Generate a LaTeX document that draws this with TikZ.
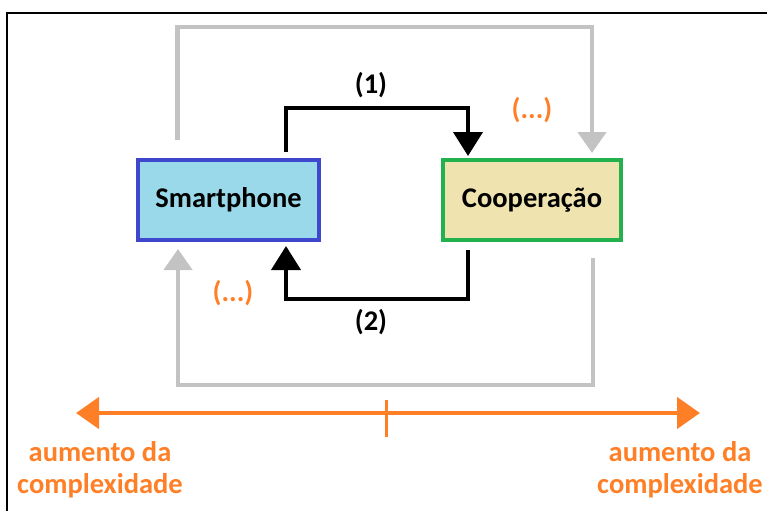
\documentclass[tikz,border=0pt]{standalone}
\usepackage{fontspec}
\setmainfont{Carlito}
\usetikzlibrary{arrows.meta}

\definecolor{paintblue}{HTML}{99D9EA}
\definecolor{paintindigo}{HTML}{3F48CC}
\definecolor{paintyellow}{HTML}{EFE4B0}
\definecolor{paintgreen}{HTML}{22B14C}
\definecolor{paintorange}{HTML}{FF7F27}
\definecolor{paintgrey}{HTML}{C3C3C3}

\begin{document}
\begin{tikzpicture}[x=1pt, y=-1pt,
  every node/.style={font=\fontsize{28.5}{32}\selectfont\bfseries},
  box/.style={draw, line width=4pt, minimum width=181pt, minimum height=80pt},
  flow/.style={line width=4pt, black, -{Triangle[length=24pt, width=29pt]}},
  loop/.style={line width=4.5pt, paintgrey, -{Triangle[length=21pt, width=28pt]}},
  axis/.style={line width=4.5pt, paintorange, {Triangle[length=23pt, width=31pt]}-{Triangle[length=23pt, width=31pt]}},
  note/.style={text=paintorange}]

  % Fix the page size
  \useasboundingbox (0,0) rectangle (767,511);

  % Frame (only top and left edge visible)
  \draw[line width=2pt] (7,511) -- (7,13) -- (767,13);

  % The two boxes
  \node[box, draw=paintindigo, fill=paintblue] (smart) at (228.5,200) {Smartphone};
  \node[box, draw=paintgreen, fill=paintyellow, minimum width=178pt] (coop) at (532,200) {Cooperação};

  % Inner loop (1) and (2)
  \draw[flow, shorten <=6pt, shorten >=2pt]
    ([xshift=57.5pt]smart.north) -- ++(0,-50) -| ([xshift=-64pt]coop.north);
  \draw[flow, shorten <=8pt, shorten >=4pt]
    ([xshift=-64pt]coop.south) -- ++(0,57) -| ([xshift=57.5pt]smart.south);

  % Outer grey loop
  \draw[loop, shorten <=18pt, shorten >=5pt]
    ([xshift=-51pt]smart.north) -- ++(0,-131) -| ([xshift=60pt]coop.north);
  \draw[loop, shorten <=16pt, shorten >=7pt]
    ([xshift=61pt]coop.south) -- ++(0,143) -| ([xshift=-50.5pt]smart.south);

  % Labels of the loops
  \node (one) at (371,85) {(1)};
  \node (two) at (371,322) {(2)};
  \node[note] (dotsA) at (532,110) {(...)};
  \node[note] (dotsB) at (233,293) {(...)};

  % Axis of complexity
  \coordinate (axL) at (76,413);
  \coordinate (axR) at (700,413);
  \coordinate (axM) at (386,413);
  \draw[axis] (axL) -- (axR);
  \draw[line width=3pt, paintorange] ([yshift=13pt]axM) -- ([yshift=-24pt]axM);

  % Axis labels
  \node[note, align=center] (leftlbl) at (100,470) {aumento da\\complexidade};
  \node[note, align=center] (rightlbl) at (680,470) {aumento da\\complexidade};

\end{tikzpicture}
\end{document}
